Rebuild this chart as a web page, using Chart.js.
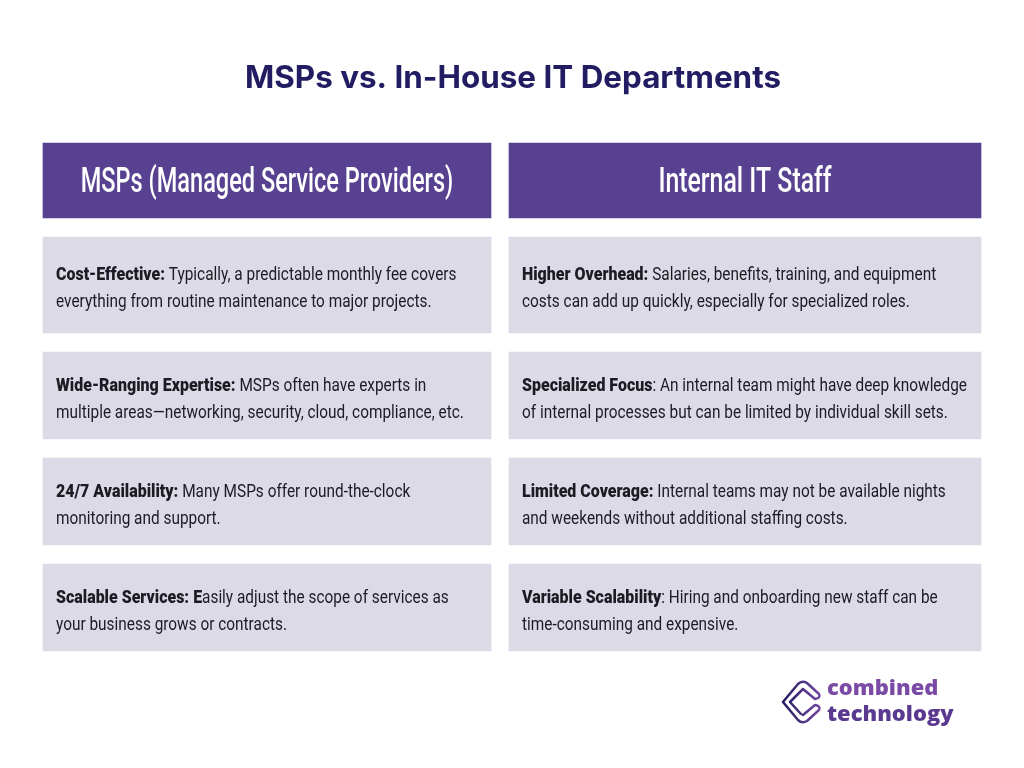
<!DOCTYPE html>
<html>
<head>
<meta charset="utf-8">
<title>MSPs vs. In-House IT Departments</title>
<script src="https://cdn.jsdelivr.net/npm/chart.js@4"></script>
<style>
  html, body { margin: 0; padding: 0; background: #fff; }
  canvas { display: block; }
</style>
</head>
<body>
<canvas id="table-chart" width="1024" height="768"></canvas>
<script>
const chartTitle = 'MSPs vs. In-House IT Departments';
const columnTitles = ['MSPs (Managed Service Providers)', 'Internal IT Staff'];

// column extents and row extents
const columnCenters = [267, 745];
const columnWidths = [448, 472];
const rowTops = [143, 237, 352, 458, 564];
const rowBottoms = [218, 333, 439, 545, 651];

// each cell: bold lead-in, rest of the first line, second line
const leftBold = ['Cost-Effective:', 'Wide-Ranging Expertise:', '24/7 Availability:', 'Scalable Services: E'];
const leftRest = [' Typically, a predictable monthly fee covers', ' MSPs often have experts in', ' Many MSPs offer round-the-clock', 'asily adjust the scope of services as'];
const leftSecond = ['everything from routine maintenance to major projects.', 'multiple areas—networking, security, cloud, compliance, etc.', 'monitoring and support.', 'your business grows or contracts.'];

const rightBold = ['Higher Overhead:', 'Specialized Focus', 'Limited Coverage:', 'Variable Scalability'];
const rightRest = [' Salaries, benefits, training, and equipment', ': An internal team might have deep knowledge', ' Internal teams may not be available nights', ': Hiring and onboarding new staff can be'];
const rightSecond = ['costs can add up quickly, especially for specialized roles.', 'of internal processes but can be limited by individual skill sets.', 'and weekends without additional staffing costs.', 'time-consuming and expensive.'];

const logoLines = ['combined', 'technology'];

const HEADER_COLOR = '#574190';
const CELL_COLOR = '#dcdae6';
const INK = '#1b1b22';
const BODY_FONT = 'Roboto, sans-serif';
const BODY_STRETCH = 0.81;
const BOLD_STRETCH = 0.84;
const HEADER_STRETCH = [0.673, 0.71];

function columnData(colIndex) {
  return rowTops.map((top, i) => ({ x: columnCenters[colIndex], y: [top, rowBottoms[i]] }));
}

function columnDataset(colIndex) {
  return {
    data: columnData(colIndex),
    barThickness: columnWidths[colIndex],
    backgroundColor: rowTops.map((t, i) => (i === 0 ? HEADER_COLOR : CELL_COLOR)),
    borderWidth: 0,
  };
}

// draws text squeezed horizontally, the installed fonts are wider than the original
function stretchedText(ctx, text, x, y, stretch) {
  ctx.save();
  ctx.translate(x, y);
  ctx.scale(stretch, 1);
  ctx.fillText(text, 0, 0);
  ctx.restore();
  return ctx.measureText(text).width * stretch;
}

function drawCell(ctx, left, center, bold, rest, second) {
  ctx.fillStyle = INK;
  ctx.textAlign = 'left';
  ctx.textBaseline = 'alphabetic';
  ctx.font = `900 19px ${BODY_FONT}`;
  const boldWidth = stretchedText(ctx, bold, left, center - 5, BOLD_STRETCH);
  ctx.font = `400 19px ${BODY_FONT}`;
  stretchedText(ctx, rest, left + boldWidth, center - 5, BODY_STRETCH);
  stretchedText(ctx, second, left, center + 22, BODY_STRETCH);
}

function drawLogo(ctx) {
  ctx.save();
  const gradient = ctx.createLinearGradient(782, 0, 822, 0);
  gradient.addColorStop(0, '#1f1a5e');
  gradient.addColorStop(1, '#7a4aa6');
  ctx.strokeStyle = gradient;
  ctx.lineCap = 'round';
  ctx.lineJoin = 'round';
  ctx.lineWidth = 2.5;
  ctx.beginPath();
  // top link
  ctx.moveTo(801, 714);
  ctx.lineTo(790, 702);
  ctx.lineTo(803, 689);
  ctx.lineTo(815, 699);
  ctx.quadraticCurveTo(821, 698, 819, 694);
  ctx.lineTo(807, 683);
  ctx.quadraticCurveTo(802, 680, 798, 684);
  ctx.lineTo(783, 702);
  // bottom link
  ctx.lineTo(798, 720);
  ctx.quadraticCurveTo(802, 724, 807, 721);
  ctx.lineTo(819, 710);
  ctx.quadraticCurveTo(821, 706, 815, 705);
  ctx.lineTo(803, 715);
  ctx.stroke();
  ctx.restore();

  ctx.font = '800 21.5px "Open Sans", sans-serif';
  ctx.textAlign = 'left';
  ctx.fillStyle = '#7a4aa6';
  stretchedText(ctx, logoLines[0], 827, 695, 1.02);
  ctx.fillStyle = '#5a3a90';
  stretchedText(ctx, logoLines[1], 827, 721, 1.02);
}

const tableTextPlugin = {
  id: 'tableText',
  afterDatasetsDraw(chart) {
    const ctx = chart.ctx;
    const xs = chart.scales.x;
    const ys = chart.scales.y;
    ctx.save();

    ctx.fillStyle = '#221c62';
    ctx.font = '700 31.4px Inter, sans-serif';
    ctx.textAlign = 'center';
    ctx.textBaseline = 'middle';
    ctx.fillText(chartTitle, xs.getPixelForValue(513), ys.getPixelForValue(79));

    // column headers
    ctx.fillStyle = '#ffffff';
    ctx.font = `500 35px ${BODY_FONT}`;
    columnTitles.forEach((title, i) => {
      const cx = xs.getPixelForValue(columnCenters[i]);
      const cy = ys.getPixelForValue((rowTops[0] + rowBottoms[0]) / 2) + 3;
      const w = ctx.measureText(title).width * HEADER_STRETCH[i];
      ctx.textAlign = 'left';
      stretchedText(ctx, title, cx - w / 2, cy, HEADER_STRETCH[i]);
    });

    // body cells
    [[leftBold, leftRest, leftSecond], [rightBold, rightRest, rightSecond]].forEach((col, c) => {
      const left = xs.getPixelForValue(columnCenters[c] - columnWidths[c] / 2) + 13;
      col[0].forEach((bold, i) => {
        const cy = ys.getPixelForValue((rowTops[i + 1] + rowBottoms[i + 1]) / 2);
        drawCell(ctx, left, cy, bold, col[1][i], col[2][i]);
      });
    });

    drawLogo(ctx);
    ctx.restore();
  },
};

new Chart(document.getElementById('table-chart').getContext('2d'), {
  type: 'bar',
  data: {
    datasets: [columnDataset(0), columnDataset(1)],
  },
  options: {
    responsive: false,
    animation: false,
    layout: { padding: 0 },
    datasets: { bar: { grouped: false } },
    scales: {
      x: { type: 'linear', min: 0, max: 1024, offset: false, display: false },
      y: { type: 'linear', min: 0, max: 768, reverse: true, display: false },
    },
    plugins: {
      legend: { display: false },
      tooltip: { enabled: false },
      title: { display: false },
    },
  },
  plugins: [tableTextPlugin],
});
</script>
</body>
</html>
